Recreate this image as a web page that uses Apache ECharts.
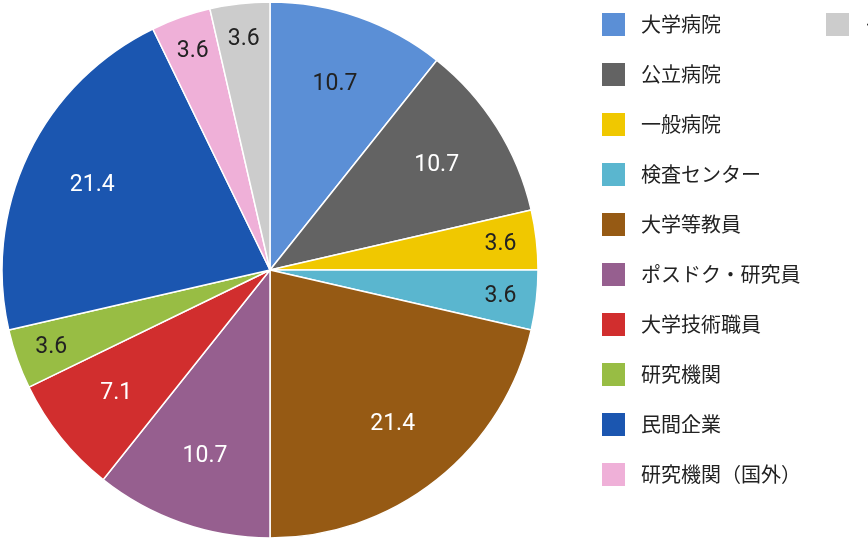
<!DOCTYPE html><html><head><meta charset="utf-8"><script src="https://cdn.jsdelivr.net/npm/echarts@6/dist/echarts.min.js"></script></head><body style="margin:0"><div id="c" style="width:868px;height:540px"></div><script>
const categories=['大学病院','公立病院','一般病院','検査センター','大学等教員','ポスドク・研究員','大学技術職員','研究機関','民間企業','研究機関（国外）','その他（海外）'];
const values=[10.7,10.7,3.6,3.6,21.4,10.7,7.1,3.6,21.4,3.6,3.6];
const colors=['#5b8fd6','#636363','#f0c800','#5ab6cf','#965a14','#965f8f','#d12e2e','#98bd44','#1b56b0','#efb0d8','#cccccc'];
const darkText=[true,false,true,true,false,false,false,true,false,true,true];
const C=['270','270'];
const data=categories.map((n,i)=>({name:n,value:values[i],itemStyle:{color:colors[i]}}));
function labelSeries(r0,r1,pred){return {type:'pie',center:C,radius:[r0,r1],startAngle:90,clockwise:true,silent:true,legendHoverLink:false,
 data:categories.map((n,i)=>({name:n,value:values[i],itemStyle:{color:'transparent'},label:{show:pred(values[i]),color:darkText[i]?'#222':'#fff'}})),
 label:{position:'inside',fontSize:23,fontFamily:'Roboto',formatter:'{c}'},labelLine:{show:false},emphasis:{disabled:true}};}
const chart=echarts.init(document.getElementById('c'));
chart.setOption({animation:false,color:colors,
legend:{orient:'vertical',left:595,top:6,itemWidth:25,itemHeight:25,itemGap:23,icon:'rect',textStyle:{fontSize:20,color:'#222',fontFamily:'Noto Sans CJK JP',padding:[0,0,0,10]},data:categories},
series:[{type:'pie',center:C,radius:[0,268],startAngle:90,clockwise:true,data:data,label:{show:false},labelLine:{show:false},itemStyle:{borderColor:'#fff',borderWidth:1.5}},
labelSeries(120,268,v=>v>=7),labelSeries(190,268,v=>v<7)]});
</script></body></html>
